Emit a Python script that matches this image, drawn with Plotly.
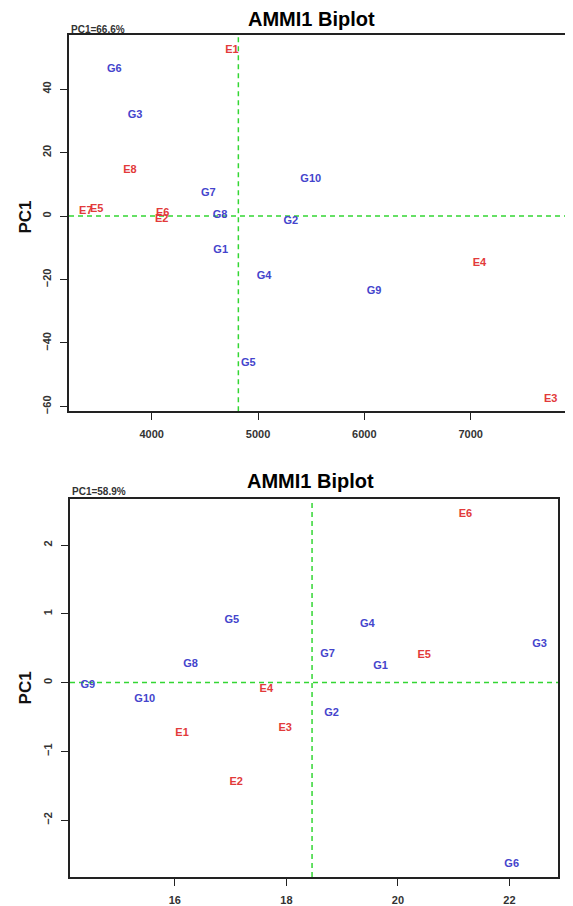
import plotly.graph_objects as go

# ---------------- data: top panel ----------------
top_env_labels = ["E1", "E2", "E3", "E4", "E5", "E6", "E7", "E8"]
top_env_yield = [4755, 4094, 7753, 7082, 3483, 4103, 3380, 3796]
top_env_pc1 = [52.2, -0.9, -57.8, -14.9, 2.0, 0.85, 1.4, 14.4]

top_gen_labels = ["G1", "G2", "G3", "G4", "G5", "G6", "G7", "G8", "G9", "G10"]
top_gen_yield = [4649, 5308, 3843, 5056, 4909, 3648, 4532, 4642, 6091, 5496]
top_gen_pc1 = [-10.7, -1.5, 31.8, -18.9, -46.3, 46.2, 7.2, 0.1, -23.6, 11.6]

top_mean_yield = 4815
top_pc1_pct = "PC1=66.6%"
top_xticks = [4000, 5000, 6000, 7000]
top_yticks = [-60, -40, -20, 0, 20, 40]

# ---------------- data: bottom panel ----------------
bot_env_labels = ["E1", "E2", "E3", "E4", "E5", "E6"]
bot_env_yield = [16.13, 17.10, 17.98, 17.64, 20.47, 21.21]
bot_env_pc1 = [-0.73, -1.45, -0.67, -0.10, 0.394, 2.456]

bot_gen_labels = ["G1", "G2", "G3", "G4", "G5", "G6", "G7", "G8", "G9", "G10"]
bot_gen_yield = [19.69, 18.81, 22.54, 19.45, 17.02, 22.04, 18.74, 16.28, 14.44, 15.46]
bot_gen_pc1 = [0.235, -0.44, 0.553, 0.852, 0.90, -2.64, 0.417, 0.26, -0.04, -0.24]

bot_mean_yield = 18.46
bot_pc1_pct = "PC1=58.9%"
bot_xticks = [16, 18, 20, 22]
bot_yticks = [-2, -1, 0, 1, 2]

title_text = "AMMI1 Biplot"
ytitle_text = "PC1"

# ---------------- styles ----------------
FONT = "Liberation Sans, Arial, sans-serif"
RED = "#E23A3A"
BLUE = "#4444CC"
GREEN = "#33D633"
PAGE_W, PAGE_H = 573, 906
OFF = 8  # default body margin of the html page
W, H = PAGE_W - OFF, PAGE_H - OFF

fig = go.Figure()

def add_text(x, y, labels, color, xa, ya):
    fig.add_trace(go.Scatter(
        x=x, y=y, text=labels, mode="text",
        textposition="middle center",
        textfont=dict(family=FONT, size=11, color=color, weight="bold"),
        xaxis=xa, yaxis=ya, showlegend=False, hoverinfo="text"))

add_text(top_env_yield, top_env_pc1, top_env_labels, RED, "x", "y")
add_text(top_gen_yield, top_gen_pc1, top_gen_labels, BLUE, "x", "y")
add_text(bot_env_yield, bot_env_pc1, bot_env_labels, RED, "x2", "y2")
add_text(bot_gen_yield, bot_gen_pc1, bot_gen_labels, BLUE, "x2", "y2")

def px_x(p):
    return (p - OFF) / W

def px_y(p):
    return 1 - (p - OFF) / H

axis_common = dict(
    showgrid=False, zeroline=False, showline=True, linecolor="#222222",
    linewidth=1.5, mirror=True, ticks="outside", ticklen=7, tickwidth=1.2,
    tickcolor="#222222",
    tickfont=dict(family=FONT, size=11, color="#333333", weight="bold"),
)

fig.update_layout(
    width=W, height=H,
    margin=dict(l=0, r=0, t=0, b=0),
    paper_bgcolor="white", plot_bgcolor="white",
    xaxis=dict(axis_common, domain=[px_x(69), px_x(569)], range=[3222, 7925],
               tickvals=top_xticks, anchor="y", ticklabelstandoff=5),
    yaxis=dict(axis_common, domain=[px_y(413), px_y(35)], range=[-61.5, 57.1],
               tickvals=top_yticks, tickangle=-90, anchor="x", ticklabelstandoff=5),
    xaxis2=dict(axis_common, domain=[px_x(70), px_x(558)], range=[14.12, 22.87],
                tickvals=bot_xticks, anchor="y2", ticklabelstandoff=5),
    yaxis2=dict(axis_common, domain=[px_y(881), px_y(501)], range=[-2.83, 2.674],
                tickvals=bot_yticks, tickangle=-90, anchor="x2", ticklabelstandoff=5),
)

# reference lines (mean yield and PC1 = 0)
dash = "5px,4px"
for xa, ya, mean in [("x", "y", top_mean_yield), ("x2", "y2", bot_mean_yield)]:
    fig.add_shape(type="line", xref=xa, yref=ya + " domain", x0=mean, x1=mean, y0=0, y1=1,
                  line=dict(color=GREEN, width=1.5, dash=dash), layer="below")
    fig.add_shape(type="line", xref=xa + " domain", yref=ya, x0=0, x1=1, y0=0, y1=0,
                  line=dict(color=GREEN, width=1.5, dash=dash), layer="below")

annos = []
for cx, cy, pcx, pcy, ty, pct in [(311, 19, 69, 30, 218, top_pc1_pct),
                                   (310, 483, 70, 494, 691, bot_pc1_pct)]:
    annos.append(dict(text="<b>" + title_text + "</b>", x=px_x(cx), y=px_y(cy),
                      xref="paper", yref="paper", xanchor="center", yanchor="middle",
                      showarrow=False, font=dict(family=FONT, size=20, color="black")))
    annos.append(dict(text="<b>" + pct + "</b>", x=px_x(pcx), y=px_y(pcy), xref="paper",
                      yref="paper", xanchor="left", yanchor="middle", showarrow=False,
                      font=dict(family=FONT, size=10, color="#333333")))
    annos.append(dict(text="<b>" + ytitle_text + "</b>", x=px_x(25.5), y=px_y(ty),
                      xref="paper", yref="paper", xanchor="center", yanchor="middle",
                      textangle=-90, showarrow=False,
                      font=dict(family=FONT, size=17, color="#111111")))
fig.update_layout(annotations=annos)

fig.write_html("out.html")
